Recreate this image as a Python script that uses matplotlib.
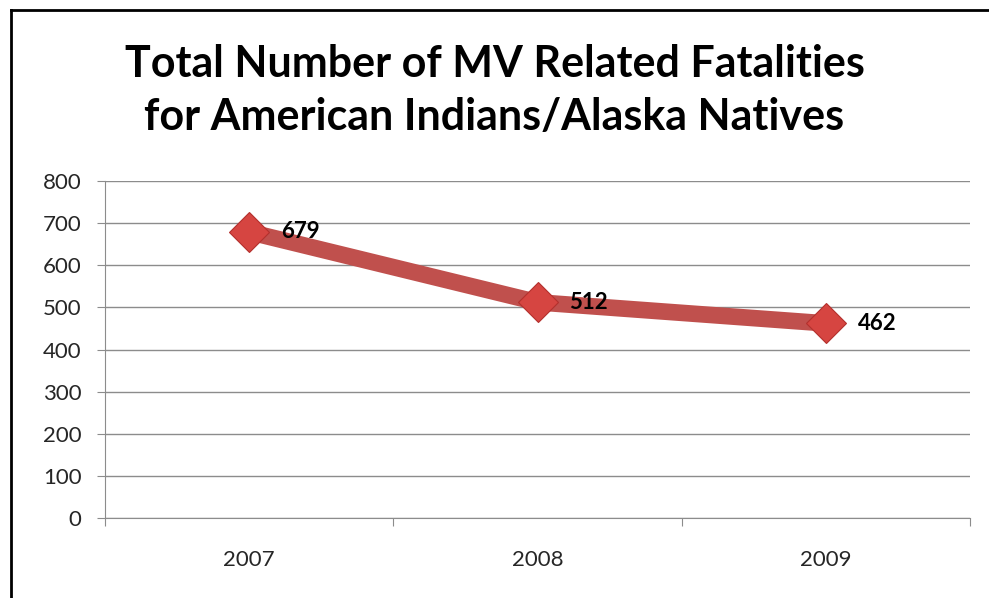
import matplotlib
matplotlib.use('Agg')
import matplotlib.pyplot as plt
from matplotlib.lines import Line2D

years = ['2007', '2008', '2009']
fatalities = [679, 512, 462]
y_ticks = [0, 100, 200, 300, 400, 500, 600, 700, 800]
title_lines = ['Total Number of MV Related Fatalities', 'for American Indians/Alaska Natives']

plt.rcParams['font.family'] = ['Lato', 'DejaVu Sans']

fig = plt.figure(figsize=(9.89, 5.98), dpi=100)
ax = fig.add_axes([0.1062, 0.1338, 0.8746, 0.5635])

x = list(range(len(years)))
ax.plot(x, fatalities, color='#C0504D', linewidth=12, solid_capstyle='butt', zorder=3)
ax.plot(x, fatalities, linestyle='none', marker='D', markersize=20,
        markerfacecolor='#D64541', markeredgecolor='#B3302D', markeredgewidth=0.8, zorder=4)

for xi, v in zip(x, fatalities):
    ax.annotate(str(v), (xi, v), xytext=(23, 0), textcoords='offset points',
                ha='left', va='center', fontsize=16, fontweight='bold', color='black')

ax.set_xlim(-0.5, len(years) - 0.5)
ax.set_ylim(0, 800)
ax.set_yticks(y_ticks)
ax.set_yticklabels([str(t) for t in y_ticks])
ax.yaxis.grid(True, color='#8C8C8C', linewidth=1)
ax.set_axisbelow(True)

ax.set_xticks([i - 0.5 for i in range(len(years) + 1)], minor=False)
ax.set_xticklabels([])
ax.set_xticks(x, minor=True)
ax.set_xticklabels(years, minor=True)
ax.tick_params(axis='x', which='major', length=6, color='#8C8C8C', direction='out')
ax.tick_params(axis='x', which='minor', length=0, pad=23, labelsize=16, labelcolor='#262626')
ax.tick_params(axis='y', length=6, color='#8C8C8C', labelsize=16, labelcolor='#262626', pad=11)

for side in ['top', 'right']:
    ax.spines[side].set_visible(False)
ax.spines['left'].set_color('#8C8C8C')
ax.spines['bottom'].set_color('#8C8C8C')

fig.text(0.5, 1 - 77 / 598, title_lines[0], ha='center', va='baseline',
         fontsize=31, fontweight='bold')
fig.text(0.5, 1 - 130 / 598, title_lines[1], ha='center', va='baseline',
         fontsize=31, fontweight='bold')

# chart frame: left and top edges only
fig.add_artist(Line2D([0.0116, 0.0116], [0, 0.9833], transform=fig.transFigure, color='black', linewidth=2))
fig.add_artist(Line2D([0.0116, 1.0], [0.9833, 0.9833], transform=fig.transFigure, color='black', linewidth=2))

fig.savefig('out.png', dpi=100)
